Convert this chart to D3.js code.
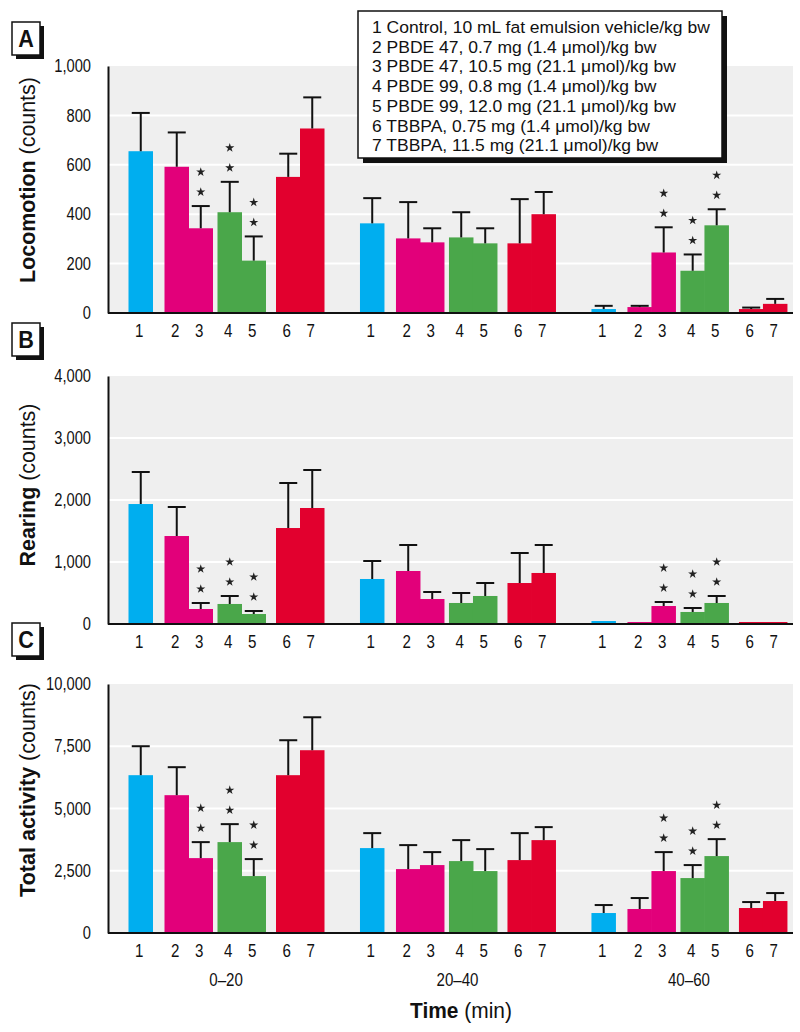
<!DOCTYPE html>
<html><head><meta charset="utf-8">
<script src="https://cdn.jsdelivr.net/npm/d3@7"></script>
<style>
body{margin:0;background:#fff}
svg{display:block}
text{font-family:'Liberation Sans',Arial,'DejaVu Sans',sans-serif;fill:#111}
</style>
</head><body>
<svg id="chart" width="800" height="1032"></svg>
<script>
// ---------------- data ----------------
const groups = ["0–20", "20–40", "40–60"];
const treatments = ["1", "2", "3", "4", "5", "6", "7"];
const legendLabels = [
  "1 Control, 10 mL fat emulsion vehicle/kg bw",
  "2 PBDE 47, 0.7 mg (1.4 μmol)/kg bw",
  "3 PBDE 47, 10.5 mg (21.1 μmol)/kg bw",
  "4 PBDE 99, 0.8 mg (1.4 μmol)/kg bw",
  "5 PBDE 99, 12.0 mg (21.1 μmol)/kg bw",
  "6 TBBPA, 0.75 mg (1.4 μmol)/kg bw",
  "7 TBBPA, 11.5 mg (21.1 μmol)/kg bw"
];
const treatmentColors = ["#00aeef", "#e2007a", "#e2007a", "#4aa74a", "#4aa74a", "#e2002e", "#e2002e"];

// Locomotion (counts): mean and SE per time group, treatments 1..7
const locomotionMean = [
  [655, 592, 343, 408, 212, 551, 747],
  [363, 302, 286, 306, 282, 282, 400],
  [16, 24, 245, 171, 355, 16, 37]
];
const locomotionSE = [
  [155, 139, 90, 123, 98, 94, 126],
  [102, 147, 57, 102, 61, 179, 90],
  [13, 5, 102, 66, 65, 6, 20]
];
// Rearing (counts)
const rearingMean = [
  [1935, 1419, 242, 323, 161, 1548, 1871],
  [726, 855, 403, 339, 452, 661, 823],
  [48, 32, 290, 194, 339, 32, 32]
];
const rearingSE = [
  [517, 468, 97, 129, 49, 726, 613],
  [290, 419, 113, 161, 209, 484, 451],
  [0, 0, 65, 64, 113, 0, 0]
];
// Total activity (counts)
const totalMean = [
  [6338, 5535, 3008, 3650, 2286, 6338, 7341],
  [3410, 2567, 2728, 2888, 2487, 2928, 3730],
  [802, 963, 2487, 2206, 3089, 1003, 1284]
];
const totalSE = [
  [1163, 1124, 642, 722, 682, 1404, 1323],
  [601, 963, 521, 842, 882, 1083, 522],
  [321, 441, 762, 522, 681, 240, 320]
];
// significance markers (**): 1 = marked
const locomotionSig = [[0,0,1,1,1,0,0],[0,0,0,0,0,0,0],[0,0,1,1,1,0,0]];
const rearingSig    = [[0,0,1,1,1,0,0],[0,0,0,0,0,0,0],[0,0,1,1,1,0,0]];
const totalSig      = [[0,0,1,1,1,0,0],[0,0,0,0,0,0,0],[0,0,1,1,1,0,0]];

const locomotionTicks = [0, 200, 400, 600, 800, 1000];
const rearingTicks = [0, 1000, 2000, 3000, 4000];
const totalTicks = [0, 2500, 5000, 7500, 10000];

// ---------------- layout ----------------
const svg = d3.select("#chart");
const plotLeft = 108, plotRight = 793;
const x = d3.scaleBand().domain(groups).range([128, 787]).paddingInner(0.153);
const xIn = d3.scaleOrdinal().domain(treatments).range([0.5, 36.5, 60.5, 89.5, 113.5, 148, 172]);
const barW = 24.5;
const color = d3.scaleOrdinal().domain(treatments).range(treatmentColors);

const panels = [
  {letter: "A", bold: "Locomotion", rest: " (counts)", mean: locomotionMean, se: locomotionSE, sig: locomotionSig,
   ticks: locomotionTicks, top: 66, base: 313, titleY: 180, titleW: 206, boxY: 22},
  {letter: "B", bold: "Rearing", rest: " (counts)", mean: rearingMean, se: rearingSE, sig: rearingSig,
   ticks: rearingTicks, top: 376, base: 624, titleY: 485, titleW: 163, boxY: 323},
  {letter: "C", bold: "Total activity", rest: " (counts)", mean: totalMean, se: totalSE, sig: totalSig,
   ticks: totalTicks, top: 684, base: 933, titleY: 790, titleW: 214, boxY: 623}
];

const fmt = d3.format(",");
const star = d3.symbol().type(d3.symbolStar).size(26);

function fitWidth(textSel, target) {
  const w = textSel.node().getComputedTextLength();
  const prev = textSel.attr("transform") || "";
  textSel.attr("transform", prev + ` scale(${target / w},1)`);
}

panels.forEach(p => {
  const g = svg.append("g");
  const maxV = p.ticks[p.ticks.length - 1];
  const y = d3.scaleLinear().domain([0, maxV]).range([p.base, p.top]);

  // background
  g.append("rect").attr("x", plotLeft).attr("y", y(maxV)).attr("width", plotRight - plotLeft)
    .attr("height", y(0) - y(maxV)).attr("fill", "#efefef");
  // gridlines
  g.selectAll(".grid").data(p.ticks.filter(t => t > 0 && t < maxV)).join("line")
    .attr("x1", plotLeft).attr("x2", plotRight).attr("y1", d => y(d)).attr("y2", d => y(d))
    .attr("stroke", "#fff").attr("stroke-width", 2);

  // bars
  const data = [];
  groups.forEach((gr, gi) => treatments.forEach((t, ti) => {
    data.push({gr, t, m: p.mean[gi][ti], se: p.se[gi][ti], sig: p.sig[gi][ti]});
  }));
  g.selectAll(".bar").data(data).join("rect")
    .attr("x", d => x(d.gr) + xIn(d.t)).attr("width", barW)
    .attr("y", d => y(d.m)).attr("height", d => y(0) - y(d.m))
    .attr("fill", d => color(d.t));

  // error bars
  const eb = data.filter(d => d.se > 0);
  g.selectAll(".ev").data(eb).join("line")
    .attr("x1", d => x(d.gr) + xIn(d.t) + barW / 2).attr("x2", d => x(d.gr) + xIn(d.t) + barW / 2)
    .attr("y1", d => y(d.m)).attr("y2", d => y(d.m + d.se))
    .attr("stroke", "#111").attr("stroke-width", 2);
  g.selectAll(".ec").data(eb).join("line")
    .attr("x1", d => x(d.gr) + xIn(d.t) + barW / 2 - 9).attr("x2", d => x(d.gr) + xIn(d.t) + barW / 2 + 9)
    .attr("y1", d => y(d.m + d.se)).attr("y2", d => y(d.m + d.se))
    .attr("stroke", "#111").attr("stroke-width", 2);

  // significance markers
  data.filter(d => d.sig).forEach(d => {
    const cx = x(d.gr) + xIn(d.t) + barW / 2;
    const ty = y(d.m + d.se);
    [14, 34].forEach(off => {
      g.append("path").attr("d", star).attr("transform", `translate(${cx},${ty - off})`).attr("fill", "#222");
    });
  });

  // axes lines
  g.append("line").attr("x1", plotLeft).attr("x2", plotRight).attr("y1", y(0)).attr("y2", y(0))
    .attr("stroke", "#111").attr("stroke-width", 2);
  const ax = g.append("g").attr("transform", `translate(${plotLeft},0)`)
    .call(d3.axisLeft(y).tickValues(p.ticks).tickSize(0).tickPadding(0).tickFormat(fmt));
  ax.select(".domain").attr("stroke", "#111").attr("stroke-width", 2);
  ax.selectAll("text").attr("font-size", 17.5).attr("fill", "#111")
    .attr("x", -17 / 0.84).attr("transform", "scale(0.84,1)")
    .style("font-family", "'Liberation Sans',Arial,sans-serif");

  // category labels
  g.selectAll(".cat").data(data).join("text")
    .attr("transform", d => `translate(${x(d.gr) + xIn(d.t) + barW / 2 - 1.5},${y(0) + 24}) scale(0.84,1)`)
    .attr("text-anchor", "middle").attr("font-size", 18).text(d => d.t);

  // y title
  const tg = g.append("g").attr("transform", `translate(35,${p.titleY}) rotate(-90)`);
  const tt = tg.append("text").attr("text-anchor", "middle").attr("font-size", 22);
  tt.append("tspan").attr("font-weight", "bold").text(p.bold);
  tt.append("tspan").text(p.rest);
  fitWidth(tt, p.titleW);

  // panel letter box
  const bx = 12, by = p.boxY, bw = 28, bh = 33;
  g.append("rect").attr("x", bx + 4).attr("y", by + 4).attr("width", bw).attr("height", bh).attr("fill", "#111");
  g.append("rect").attr("x", bx).attr("y", by).attr("width", bw).attr("height", bh)
    .attr("fill", "#fff").attr("stroke", "#111").attr("stroke-width", 1.5);
  g.append("text").attr("transform", `translate(${bx + bw / 2},${by + bh / 2 + 8}) scale(0.9,1)`)
    .attr("text-anchor", "middle").attr("font-size", 24).attr("font-weight", "bold").text(p.letter);
});

// group labels and x title
svg.selectAll(".grp").data(groups).join("text")
  .attr("transform", d => `translate(${x(d) + x.bandwidth() / 2},986) scale(0.84,1)`)
  .attr("text-anchor", "middle").attr("font-size", 18).text(d => d);
const xg = svg.append("g").attr("transform", "translate(461,1018)");
const xt = xg.append("text").attr("text-anchor", "middle").attr("font-size", 22);
xt.append("tspan").attr("font-weight", "bold").text("Time");
xt.append("tspan").text(" (min)");
fitWidth(xt, 102);

// legend
const lg = svg.append("g");
const lx = 358, ly = 11, lw = 364, lh = 147;
lg.append("rect").attr("x", lx + 5).attr("y", ly + 5).attr("width", lw).attr("height", lh).attr("fill", "#111");
lg.append("rect").attr("x", lx).attr("y", ly).attr("width", lw).attr("height", lh)
  .attr("fill", "#fff").attr("stroke", "#111").attr("stroke-width", 1.5);
const lt = lg.selectAll(".lt").data(legendLabels).join("text")
  .attr("transform", (d, i) => `translate(${lx + 14},${ly + 22 + i * 19.7})`)
  .attr("font-size", 16.5).text(d => d);
const lScale = 338 / lt.nodes()[0].getComputedTextLength();
lt.attr("transform", (d, i) => `translate(${lx + 14},${ly + 22 + i * 19.7}) scale(${lScale},1)`);
</script>
</body></html>
